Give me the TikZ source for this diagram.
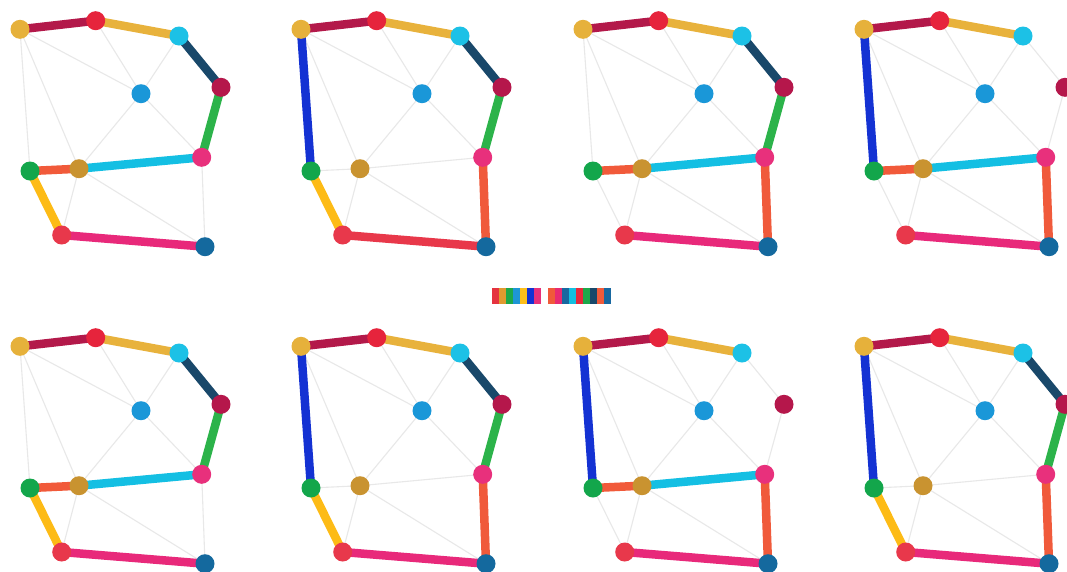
\documentclass[tikz,border=0pt]{standalone}
\pgfdeclarelayer{back}
\pgfdeclarelayer{bg}
\pgfsetlayers{back,bg,main}
\definecolor{edgegray}{HTML}{E8E8E8}
\definecolor{cA}{HTML}{E6B13B}
\definecolor{cB}{HTML}{E6243C}
\definecolor{cC}{HTML}{1CC1E6}
\definecolor{cD}{HTML}{B5174B}
\definecolor{cE}{HTML}{1A97D8}
\definecolor{cF}{HTML}{E8307C}
\definecolor{cG}{HTML}{13A64B}
\definecolor{cH}{HTML}{C99330}
\definecolor{cI}{HTML}{E8384B}
\definecolor{cJ}{HTML}{14699E}
\definecolor{eAB}{HTML}{B3194A}
\definecolor{eBC}{HTML}{E8B23C}
\definecolor{eCD}{HTML}{19486A}
\definecolor{eDF}{HTML}{2CB34A}
\definecolor{eFH}{HTML}{14BFE3}
\definecolor{eGH}{HTML}{F15A3A}
\definecolor{eGI}{HTML}{FDBB16}
\definecolor{eIJ}{HTML}{E8297A}
\definecolor{eIJr}{HTML}{E8384A}
\definecolor{eAG}{HTML}{1432D3}
\definecolor{eFJ}{HTML}{F05A3B}
\tikzset{
  dot/.style={circle,minimum size=19pt,inner sep=0pt,draw=none},
  thinedge/.style={draw=edgegray,line width=1.1pt},
  thickedge/.style={line width=8.5pt,line cap=butt},
  barseg/.style={draw=none},
}
\newcommand\drawpanel[4]{%
  \begin{scope}[shift={(#2,#3)}]
    \node[dot,fill=cA] (A#1) at (20,29.3) {};
    \node[dot,fill=cB] (B#1) at (95.7,20.7) {};
    \node[dot,fill=cC] (C#1) at (179,36) {};
    \node[dot,fill=cD] (D#1) at (221,87.3) {};
    \node[dot,fill=cE] (E#1) at (141,93.7) {};
    \node[dot,fill=cF] (F#1) at (201.7,157.3) {};
    \node[dot,fill=cG] (G#1) at (30,171) {};
    \node[dot,fill=cH] (H#1) at (79,168.7) {};
    \node[dot,fill=cI] (I#1) at (61.7,235) {};
    \node[dot,fill=cJ] (J#1) at (205,246.7) {};
  \end{scope}
  \begin{pgfonlayer}{bg}
    \foreach \u/\v in {A/E,A/G,A/H,B/E,C/E,E/H,E/F,F/J,H/J,H/I,G/H,F/H,G/I,I/J,A/B,B/C,C/D,D/F}
      \draw[thinedge] (\u#1.center) -- (\v#1.center);
    \foreach \u/\v/\c in {#4}
      \draw[thickedge,draw=\c] (\u#1.center) -- (\v#1.center);
  \end{pgfonlayer}
}
\begin{document}
\begin{tikzpicture}[x=1pt,y=-1pt]
\begin{pgfonlayer}{back}
  \fill[white] (0,0) rectangle (1067,571);
\end{pgfonlayer}
\useasboundingbox (0,0) rectangle (1067,571);
\drawpanel{1}{0}{0}{A/B/eAB,B/C/eBC,C/D/eCD,D/F/eDF,F/H/eFH,G/H/eGH,G/I/eGI,I/J/eIJ}
\drawpanel{2}{281}{0}{A/B/eAB,B/C/eBC,C/D/eCD,D/F/eDF,F/J/eFJ,I/J/eIJr,G/I/eGI,A/G/eAG}
\drawpanel{3}{563}{0}{A/B/eAB,B/C/eBC,C/D/eCD,D/F/eDF,F/J/eFJ,I/J/eIJ,F/H/eFH,G/H/eGH}
\drawpanel{4}{844}{0}{A/B/eAB,B/C/eBC,A/G/eAG,G/H/eGH,F/H/eFH,F/J/eFJ,I/J/eIJ}
\drawpanel{5}{0}{317}{A/B/eAB,B/C/eBC,C/D/eCD,D/F/eDF,F/H/eFH,G/H/eGH,G/I/eGI,I/J/eIJ}
\drawpanel{6}{281}{317}{A/B/eAB,B/C/eBC,C/D/eCD,D/F/eDF,F/J/eFJ,I/J/eIJ,G/I/eGI,A/G/eAG}
\drawpanel{7}{563}{317}{A/B/eAB,B/C/eBC,A/G/eAG,G/H/eGH,F/H/eFH,F/J/eFJ,I/J/eIJ}
\drawpanel{8}{844}{317}{A/B/eAB,B/C/eBC,C/D/eCD,D/F/eDF,F/J/eFJ,I/J/eIJ,G/I/eGI,A/G/eAG}
% colour bar
\foreach \c [count=\i from 0] in {E5333F,E09A2F,1DA84A,1E96D5,FDBF1A,1432D3,E8307A,FFFFFF,F05A3A,E82A72,1868A0,14BEE0,E8283C,1DA84A,19486A,F05A3A,1868A0}{
  \definecolor{segc}{HTML}{\c}
  \fill[barseg,segc] (492+\i*7,288) rectangle (492+\i*7+7.2,304);
}
\end{tikzpicture}
\end{document}
